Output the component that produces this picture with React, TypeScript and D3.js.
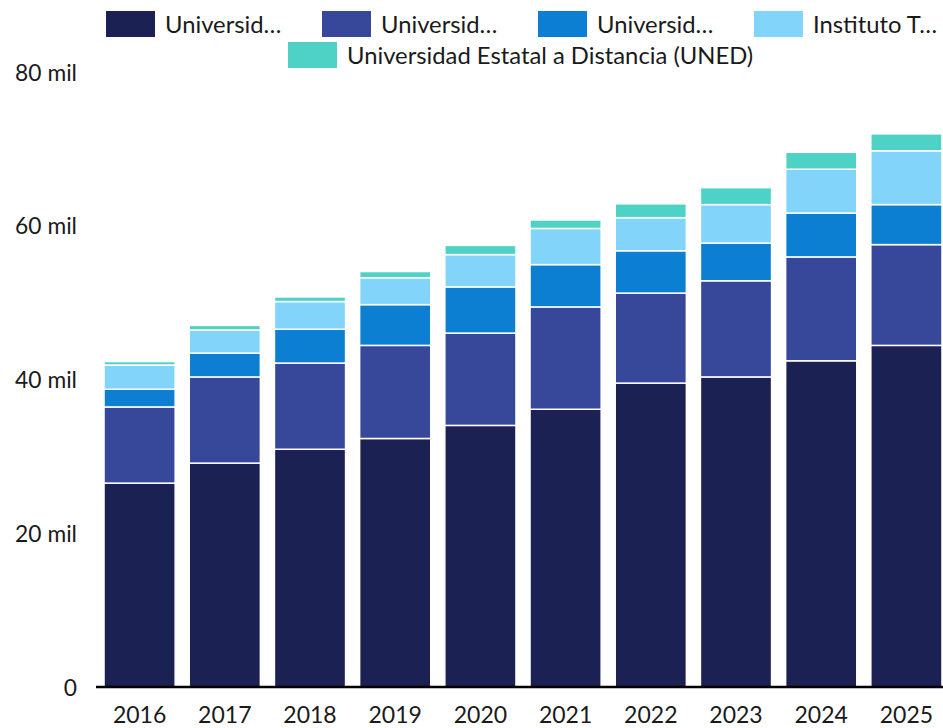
import React from "react";
import * as d3 from "d3";

const years = ["2016", "2017", "2018", "2019", "2020", "2021", "2022", "2023", "2024", "2025"];
const seriesNames = [
  "Universid…",
  "Universid…",
  "Universid…",
  "Instituto T…",
  "Universidad Estatal a Distancia (UNED)",
];
const seriesColors = ["#1b2152", "#37489a", "#0d7fd3", "#82d4fa", "#4ed2c5"];

// values in thousands
const s1 = [26.5, 29.1, 30.9, 32.3, 34.0, 36.1, 39.5, 40.3, 42.4, 44.4];
const s2 = [9.9, 11.2, 11.2, 12.1, 12.0, 13.3, 11.7, 12.5, 13.5, 13.1];
const s3 = [2.3, 3.1, 4.4, 5.3, 6.0, 5.5, 5.5, 4.9, 5.7, 5.2];
const s4 = [3.15, 3.0, 3.6, 3.5, 4.2, 4.7, 4.3, 5.0, 5.7, 7.0];
const s5 = [0.45, 0.6, 0.6, 0.8, 1.2, 1.1, 1.8, 2.2, 2.2, 2.2];
const yTicks = [0, 20, 40, 60, 80];
const yTickLabels = ["0", "20 mil", "40 mil", "60 mil", "80 mil"];

const W = 943;
const H = 728;
const FONT = "Lato, 'Open Sans', sans-serif";

export default function App() {
  const x = d3.scaleBand<string>().domain(years).range([97, 949]).paddingInner(0.165).paddingOuter(0.0825);
  const y = d3.scaleLinear().domain([0, 80]).range([687, 71.5]);

  const rows = years.map((yr, i) => ({ year: yr, a: s1[i], b: s2[i], c: s3[i], d: s4[i], e: s5[i] }));
  const keys = ["a", "b", "c", "d", "e"];
  const stacked = d3.stack<any>().keys(keys)(rows);

  const legendRow1X = [106, 322, 538, 754];
  return (
    <svg width={W} height={H} style={{ position: "absolute", left: 0, top: 0, background: "#fff" }}>
      {/* legend */}
      {seriesNames.map((name, i) => {
        const lx = i < 4 ? legendRow1X[i] : 288;
        const ly = i < 4 ? 11 : 42;
        return (
          <g key={i}>
            <rect x={lx} y={ly} width={49} height={26} fill={seriesColors[i]} />
            <text x={lx + 59} y={ly + 13} dominantBaseline="central" fontFamily={FONT} fontSize={23.8} fill="#1a1a1a">
              {name}
            </text>
          </g>
        );
      })}
      {/* bars */}
      {stacked.map((layer, si) => (
        <g key={si} fill={seriesColors[si]}>
          {layer.map((d, i) => (
            <rect
              key={i}
              x={x(years[i])}
              y={y(d[1])}
              width={x.bandwidth()}
              height={y(d[0]) - y(d[1])}
              stroke="#fff"
              strokeWidth={1.5}
            />
          ))}
        </g>
      ))}
      {/* y axis labels */}
      {yTicks.map((t, i) => (
        <text key={t} x={77} y={y(t)} textAnchor="end" dominantBaseline="central" fontFamily={FONT} fontSize={22.8} fill="#1a1a1a">
          {yTickLabels[i]}
        </text>
      ))}
      {/* x axis */}
      <line x1={96} x2={943} y1={687} y2={687} stroke="#000" strokeWidth={2.5} />
      {years.map((yr) => (
        <text key={yr} x={(x(yr) as number) + x.bandwidth() / 2} y={714} textAnchor="middle" dominantBaseline="central" fontFamily={FONT} fontSize={23} fill="#1a1a1a">
          {yr}
        </text>
      ))}
    </svg>
  );
}
